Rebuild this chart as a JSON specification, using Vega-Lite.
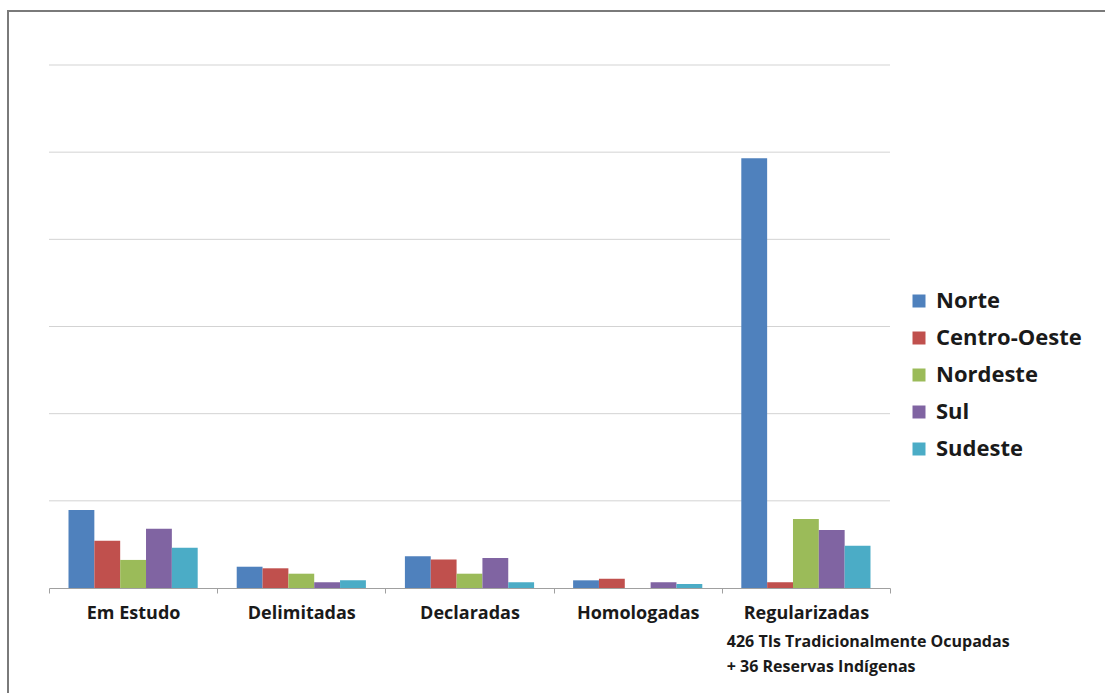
{
  "$schema": "https://vega.github.io/schema/vega-lite/v6.json",
  "description": "Terras indígenas por fase do processo e região",
  "autosize": {"type": "none"},
  "padding": {"left": 8, "top": 11, "right": -3, "bottom": -18},
  "width": 1100,
  "height": 700,
  "background": "white",
  "datasets": {
    "fases": [
      {"fase": "Em Estudo", "regiao": "Norte", "valor": 44.7},
      {"fase": "Em Estudo", "regiao": "Centro-Oeste", "valor": 27.1},
      {"fase": "Em Estudo", "regiao": "Nordeste", "valor": 16.1},
      {"fase": "Em Estudo", "regiao": "Sul", "valor": 34},
      {"fase": "Em Estudo", "regiao": "Sudeste", "valor": 23.1},
      {"fase": "Delimitadas", "regiao": "Norte", "valor": 12.2},
      {"fase": "Delimitadas", "regiao": "Centro-Oeste", "valor": 11.3},
      {"fase": "Delimitadas", "regiao": "Nordeste", "valor": 8.2},
      {"fase": "Delimitadas", "regiao": "Sul", "valor": 3.3},
      {"fase": "Delimitadas", "regiao": "Sudeste", "valor": 4.4},
      {"fase": "Declaradas", "regiao": "Norte", "valor": 18.2},
      {"fase": "Declaradas", "regiao": "Centro-Oeste", "valor": 16.3},
      {"fase": "Declaradas", "regiao": "Nordeste", "valor": 8.2},
      {"fase": "Declaradas", "regiao": "Sul", "valor": 17.2},
      {"fase": "Declaradas", "regiao": "Sudeste", "valor": 3.3},
      {"fase": "Homologadas", "regiao": "Norte", "valor": 4.4},
      {"fase": "Homologadas", "regiao": "Centro-Oeste", "valor": 5.3},
      {"fase": "Homologadas", "regiao": "Nordeste", "valor": 0},
      {"fase": "Homologadas", "regiao": "Sul", "valor": 3.3},
      {"fase": "Homologadas", "regiao": "Sudeste", "valor": 2.3},
      {"fase": "Regularizadas", "regiao": "Norte", "valor": 246.5},
      {"fase": "Regularizadas", "regiao": "Centro-Oeste", "valor": 3.3},
      {"fase": "Regularizadas", "regiao": "Nordeste", "valor": 39.6},
      {"fase": "Regularizadas", "regiao": "Sul", "valor": 33.3},
      {"fase": "Regularizadas", "regiao": "Sudeste", "valor": 24.3}
    ],
    "grade": [
      {"v": 50}, {"v": 100}, {"v": 150}, {"v": 200}, {"v": 250}, {"v": 300}
    ]
  },
  "layer": [
    {
      "data": {"name": "grade"},
      "mark": {"type": "rule", "color": "#d3d3d3", "strokeWidth": 1},
      "encoding": {
        "x": {"datum": "Em Estudo", "type": "nominal", "bandPosition": 0},
        "x2": {"datum": "Regularizadas", "bandPosition": 1},
        "y": {
          "field": "v",
          "type": "quantitative",
          "scale": {"domain": [-70.56, 330.98], "nice": false, "zero": false},
          "axis": null
        }
      }
    },
    {
      "data": {"name": "fases"},
      "mark": {"type": "bar"},
      "encoding": {
        "x": {
          "field": "fase",
          "type": "nominal",
          "scale": {
            "domain": ["Em Estudo", "Delimitadas", "Declaradas", "Homologadas", "Regularizadas"],
            "range": [41, 882],
            "paddingInner": 0,
            "paddingOuter": 0
          },
          "axis": {
            "title": null,
            "orient": "bottom",
            "offset": -123,
            "tickBand": "extent",
            "grid": false,
            "domainColor": "#a0a0a0",
            "tickColor": "#a0a0a0",
            "tickSize": 5,
            "labelAngle": 0,
            "labelAlign": "center",
            "labelFont": "Open Sans",
            "labelFontWeight": "bold",
            "labelFontSize": 18,
            "labelColor": "#1a1a1a",
            "labelPadding": 20
          }
        },
        "xOffset": {
          "field": "regiao",
          "type": "nominal",
          "scale": {
            "domain": ["Norte", "Centro-Oeste", "Nordeste", "Sul", "Sudeste"],
            "paddingInner": 0,
            "paddingOuter": 0.755
          }
        },
        "y": {
          "field": "valor",
          "type": "quantitative",
          "stack": null,
          "scale": {"domain": [-70.56, 330.98], "nice": false, "zero": false},
          "axis": null
        },
        "color": {
          "field": "regiao",
          "type": "nominal",
          "scale": {
            "domain": ["Norte", "Centro-Oeste", "Nordeste", "Sul", "Sudeste"],
            "range": ["#4f81bd", "#c0504d", "#9bbb59", "#8064a2", "#4bacc6"]
          },
          "legend": {
            "title": null,
            "orient": "none",
            "legendX": 900,
            "legendY": 279,
            "padding": 0,
            "symbolType": "square",
            "symbolSize": 169,
            "symbolStrokeWidth": 0,
            "symbolOpacity": 1,
            "labelFont": "Open Sans",
            "labelFontWeight": "bold",
            "labelFontSize": 22,
            "labelColor": "#1a1a1a",
            "labelOffset": 6,
            "rowPadding": 15
          }
        }
      }
    },
    {
      "data": {"values": [{"nota": "Regularizadas"}]},
      "mark": {
        "type": "text",
        "text": ["426 TIs Tradicionalmente Ocupadas", "+  36 Reservas Indígenas"],
        "align": "left",
        "baseline": "alphabetic",
        "font": "Open Sans",
        "fontWeight": "bold",
        "fontSize": 16,
        "lineHeight": 25,
        "color": "#1a1a1a",
        "dx": 5
      },
      "encoding": {
        "x": {"field": "nota", "type": "nominal", "bandPosition": 0},
        "y": {"datum": -33.8, "type": "quantitative"}
      }
    }
  ],
  "config": {
    "view": {"stroke": "#7a7a7a", "strokeWidth": 2}
  }
}
